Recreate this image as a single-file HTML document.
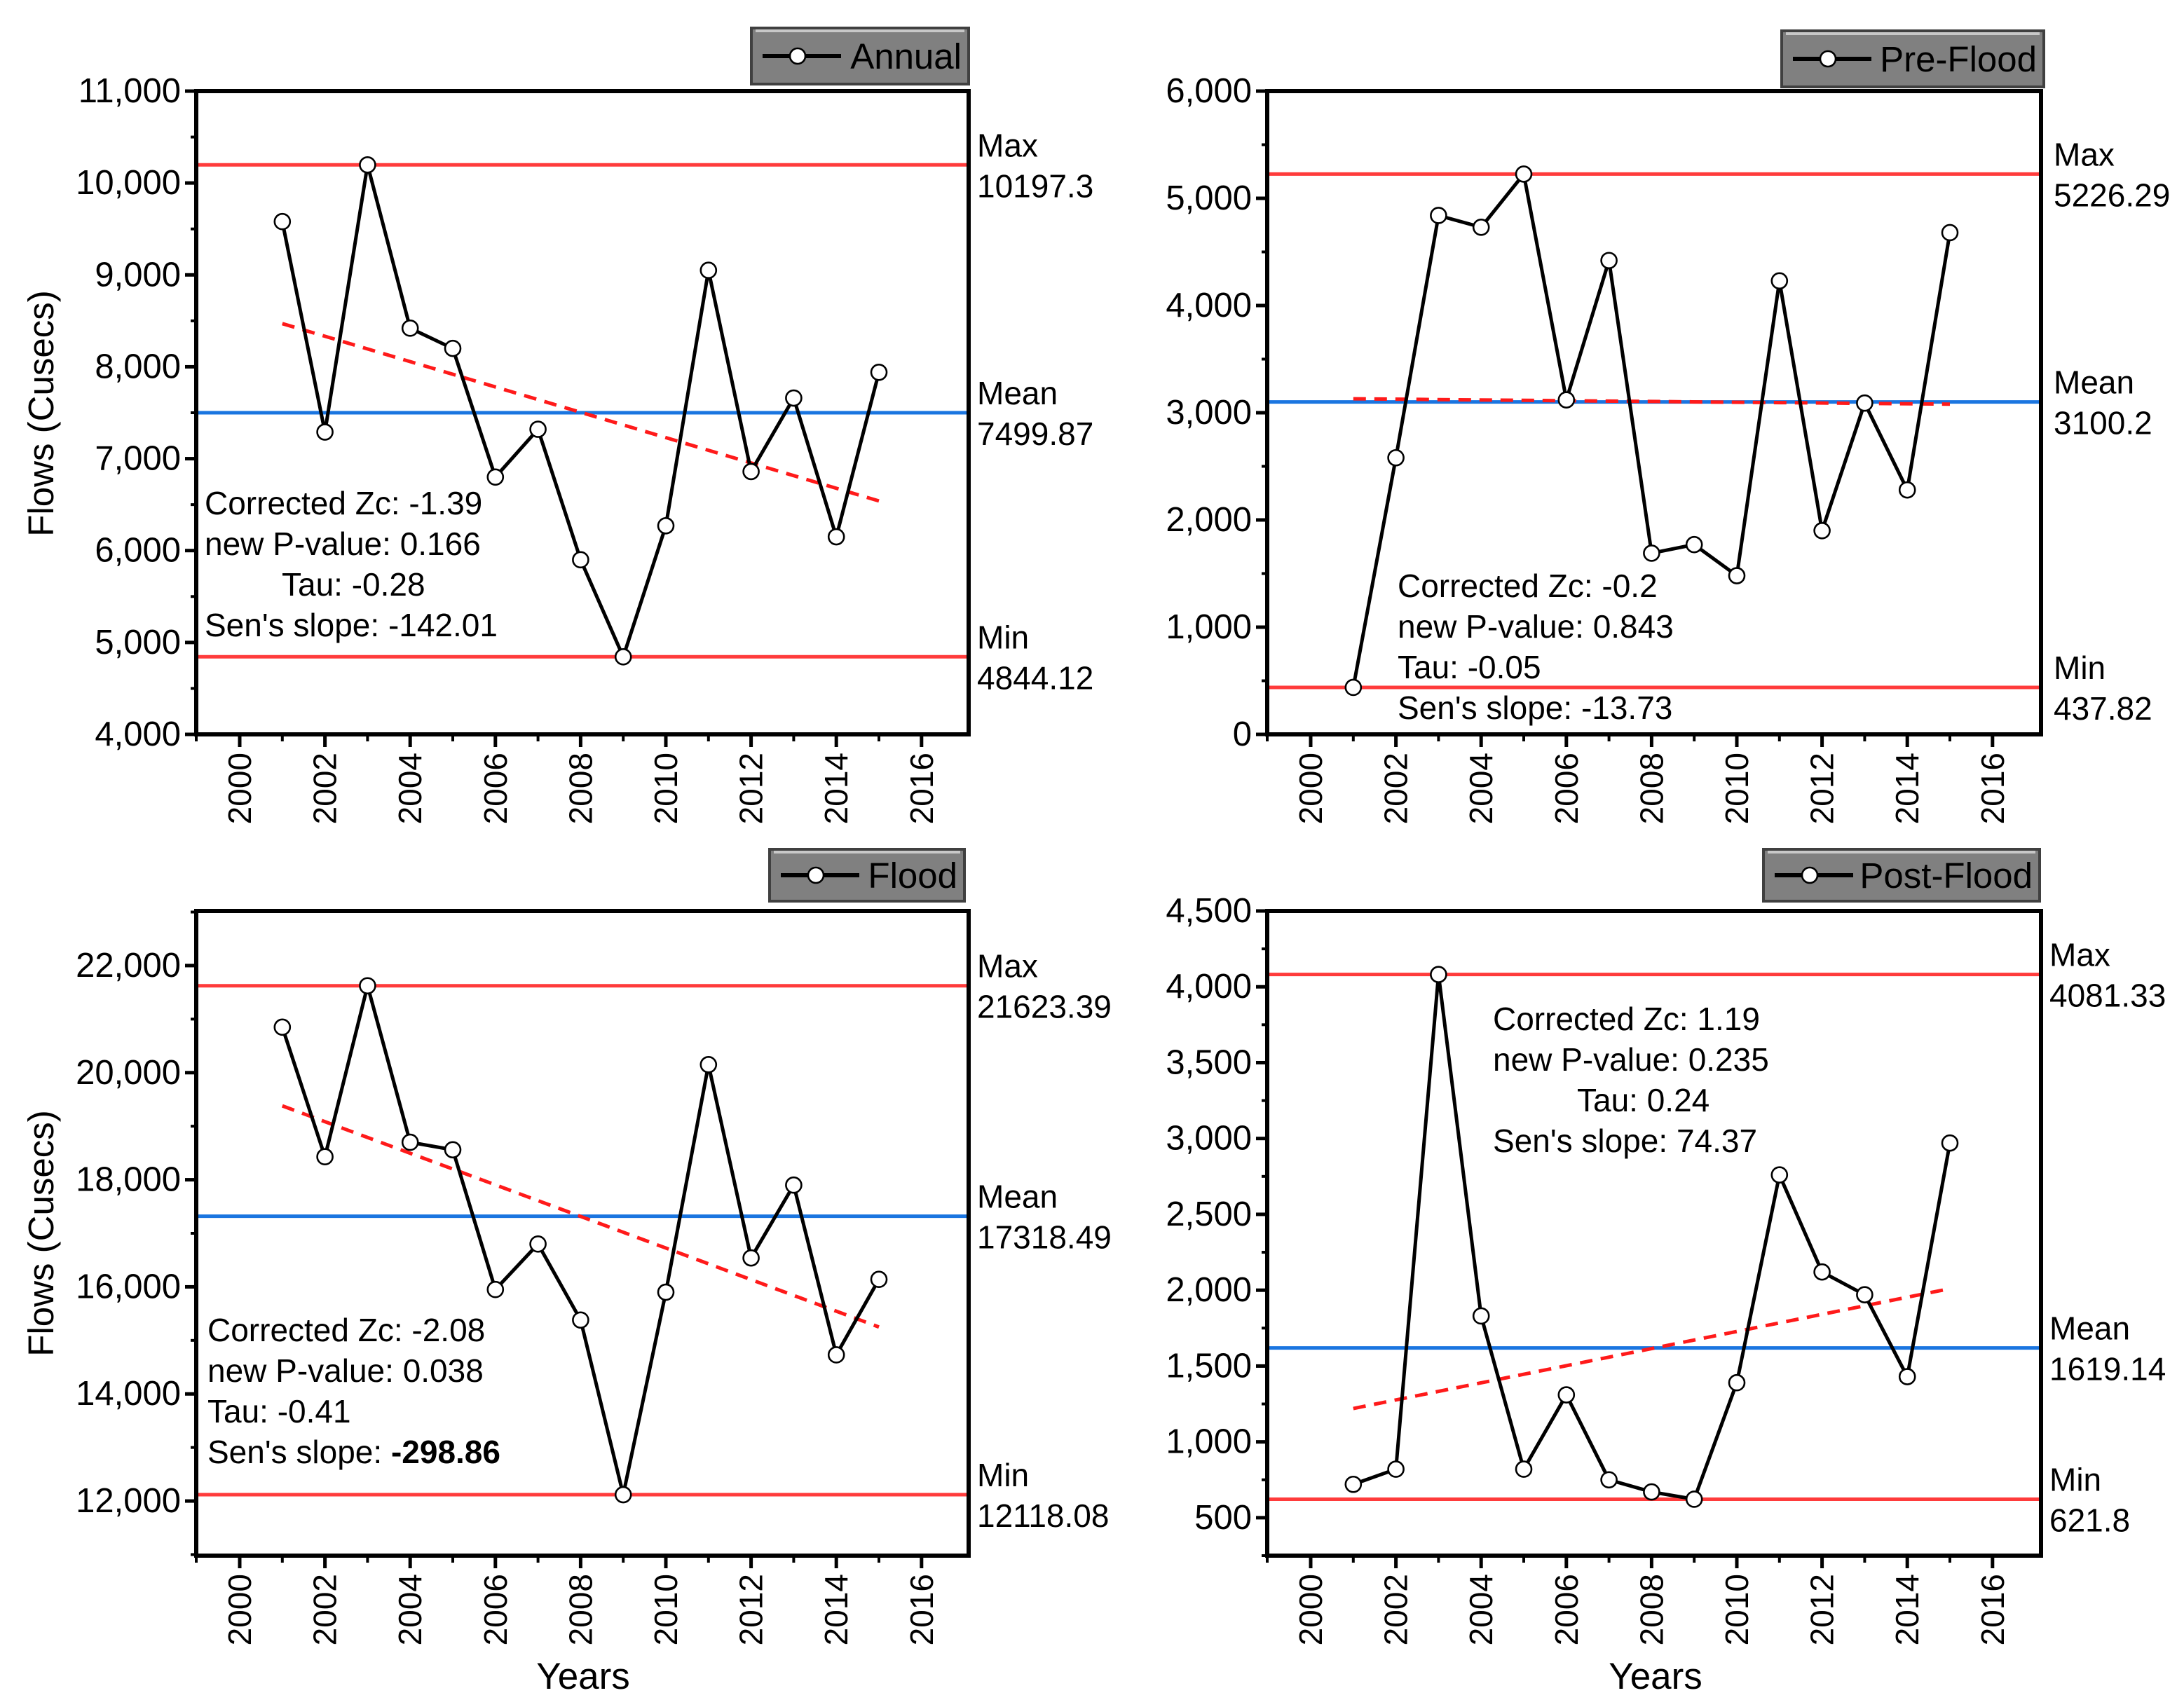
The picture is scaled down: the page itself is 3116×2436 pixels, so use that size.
<!DOCTYPE html>
<html><head><meta charset="utf-8"><style>
html,body{margin:0;padding:0;background:#fff}
svg{display:block;font-family:"Liberation Sans",Arial,sans-serif}
</style></head><body>
<svg id="chart" width="3116" height="2436" viewBox="0 0 1558 1218" xmlns="http://www.w3.org/2000/svg"></svg>
<script>
const years=[2001,2002,2003,2004,2005,2006,2007,2008,2009,2010,2011,2012,2013,2014,2015];
const annualVals=[9580,7290,10197,8420,8200,6800,7320,5900,4844,6270,9050,6860,7660,6150,7940];
const preVals=[438,2580,4840,4730,5226,3120,4420,1690,1770,1480,4230,1900,3090,2280,4680];
const floodVals=[20850,18430,21623,18700,18560,15950,16800,15380,12118,15900,20150,16540,17900,14730,16140];
const postVals=[720,820,4081,1830,820,1310,750,670,622,1390,2760,2120,1970,1430,2970];
const annualStats=[10197.3,7499.87,4844.12];
const preStats=[5226.29,3100.2,437.82];
const floodStats=[21623.39,17318.49,12118.08];
const postStats=[4081.33,1619.14,621.8];
const annualTrend=[8470,6540];
const preTrend=[3130,3080];
const floodTrend=[19380,15250];
const postTrend=[1220,2010];
const annualTicks=[4000,5000,6000,7000,8000,9000,10000,11000];
const preTicks=[0,1000,2000,3000,4000,5000,6000];
const floodTicks=[12000,14000,16000,18000,20000,22000];
const postTicks=[500,1000,1500,2000,2500,3000,3500,4000,4500];
const xTicks=[2000,2002,2004,2006,2008,2010,2012,2014,2016];

const NS="http://www.w3.org/2000/svg";
const svg=document.getElementById('chart');
function mk(tag,attrs,parent,text){const e=document.createElementNS(NS,tag);for(const k in attrs)e.setAttribute(k,attrs[k]);if(text!==undefined)e.textContent=text;(parent||svg).appendChild(e);return e;}
function fmt(v){return v.toLocaleString('en-US');}

function panel(o){
  const g=mk('g',{});
  
  
  const L=o.x0,R=o.x1,T=o.y0,B=o.y1;
  const ys=v=>B-(v-o.ymin)/(o.ymax-o.ymin)*(B-T);
  const xs=yr=>L+31+(yr-2000)*30.4;
  const cols=['#ff3b3b','#1a75e0','#ff3b3b'];
  const labs=['Max','Mean','Min'];
  o.stats.forEach((s,i)=>{
    const ln=mk('line',{x1:L,x2:R,y1:ys(s),y2:ys(s),stroke:cols[i],'stroke-width':2.5},g);
    
    
    const t1=mk('text',{x:R+o.labDx,y:ys(s)-6,'font-size':23},g,labs[i]);
    
    
    const t2=mk('text',{x:R+o.labDx,y:ys(s)+23,'font-size':23},g,String(s));
    
    
  });
  const tr=mk('line',{x1:xs(2001),x2:xs(2015),y1:ys(o.trend[0]),y2:ys(o.trend[1]),stroke:'#ff1a1a','stroke-width':2.5,'stroke-dasharray':'9,6'},g);
  
  
  const pts=years.map((y,i)=>xs(y)+','+ys(o.vals[i])).join(' ');
  const pl=mk('polyline',{points:pts,fill:'none',stroke:'#000','stroke-width':2.5},g);
  
  
  years.forEach((y,i)=>{
    const c=mk('circle',{cx:xs(y),cy:ys(o.vals[i]),r:5.5,fill:'#fff',stroke:'#000','stroke-width':1.3},g);
    
    
  });
  const fr=mk('rect',{x:L,y:T,width:R-L,height:B-T,fill:'none',stroke:'#000','stroke-width':3},g);
  
  
  const step=o.yt[1]-o.yt[0];
  o.yt.forEach(v=>{
    mk('line',{x1:L-8,x2:L,y1:ys(v),y2:ys(v),stroke:'#000','stroke-width':2.5},g);
    const t=mk('text',{x:L-11,y:ys(v)+8,'font-size':24.5,'text-anchor':'end'},g,fmt(v));
    
    
    const m=v+step/2;
    if(ys(m)>=T) mk('line',{x1:L-4,x2:L,y1:ys(m),y2:ys(m),stroke:'#000','stroke-width':2},g);
    const m2=v-step/2;
    if(v===o.yt[0]&&ys(m2)<=B) mk('line',{x1:L-4,x2:L,y1:ys(m2),y2:ys(m2),stroke:'#000','stroke-width':2},g);
  });
  xTicks.forEach(v=>{
    mk('line',{x1:xs(v),x2:xs(v),y1:B,y2:B+9,stroke:'#000','stroke-width':2.5},g);
    const t=mk('text',{x:0,y:0,'font-size':23,'text-anchor':'end',transform:`translate(${xs(v)+8},${B+13}) rotate(-90)`},g,String(v));
    
    
    if(v<2016) mk('line',{x1:xs(v+1),x2:xs(v+1),y1:B,y2:B+5,stroke:'#000','stroke-width':2},g);
  });
  mk('line',{x1:L,x2:L,y1:B,y2:B+5,stroke:'#000','stroke-width':2},g);
  o.txt.forEach((s,i)=>{
    const t=mk('text',{x:o.tx+(s[1]||0),y:o.ty+i*29,'font-size':23},g);
    
    
    if(s[2]){mk('tspan',{},t,s[0]);mk('tspan',{'font-weight':'bold'},t,s[2]);}else t.textContent=s[0];
  });
  const lg=mk('g',{},g);
  
  
  const [lx,ly,lw,lh]=o.leg;
  mk('rect',{x:lx,y:ly,width:lw,height:lh,fill:'#808080',stroke:'#404040','stroke-width':2},lg);
  mk('line',{x1:lx+3,x2:lx+lw-3,y1:ly+2,y2:ly+2,stroke:'#c8c8c8','stroke-width':2},lg);
  mk('line',{x1:lx+8,x2:lx+64,y1:ly+lh/2,y2:ly+lh/2,stroke:'#000','stroke-width':3},lg);
  mk('circle',{cx:lx+33,cy:ly+lh/2,r:5.5,fill:'#fff',stroke:'#000','stroke-width':1.3},lg);
  mk('text',{x:lx+lw-5,y:ly+lh/2+9,'font-size':25.5,'text-anchor':'end'},lg,o.title);
}

panel({name:'annual',title:'Annual',x0:140,x1:691,y0:65,y1:524,ymin:4000,ymax:11000,yt:annualTicks,vals:annualVals,stats:annualStats,trend:annualTrend,labDx:6,
  tx:146,ty:367,txt:[['Corrected Zc: -1.39'],['new P-value: 0.166'],['Tau: -0.28',55],["Sen's slope: -142.01"]],leg:[536,20,155,40]});
panel({name:'pre-flood',title:'Pre-Flood',x0:904,x1:1456,y0:65,y1:524,ymin:0,ymax:6000,yt:preTicks,vals:preVals,stats:preStats,trend:preTrend,labDx:9,
  tx:997,ty:426,txt:[['Corrected Zc: -0.2'],['new P-value: 0.843'],['Tau: -0.05'],["Sen's slope: -13.73"]],leg:[1271,22,187,40]});
panel({name:'flood',title:'Flood',x0:140,x1:691,y0:650,y1:1110,ymin:10980,ymax:23020,yt:floodTicks,vals:floodVals,stats:floodStats,trend:floodTrend,labDx:6,
  tx:148,ty:957,txt:[['Corrected Zc: -2.08'],['new P-value: 0.038'],['Tau: -0.41'],["Sen's slope: ",0,'-298.86']],leg:[549,606,139,37]});
panel({name:'post-flood',title:'Post-Flood',x0:904,x1:1456,y0:650,y1:1110,ymin:250,ymax:4500,yt:postTicks,vals:postVals,stats:postStats,trend:postTrend,labDx:6,
  tx:1065,ty:735,txt:[['Corrected Zc: 1.19'],['new P-value: 0.235'],['Tau: 0.24',60],["Sen's slope: 74.37"]],leg:[1258,606,197,37]});

[[38,295],[38,880]].forEach(p=>{
  const t=mk('text',{x:0,y:0,'font-size':25.5,'text-anchor':'middle',transform:`translate(${p[0]},${p[1]}) rotate(-90)`},svg,'Flows (Cusecs)');
  
  
});
[[416,1205],[1181,1205]].forEach(p=>{
  const t=mk('text',{x:p[0],y:p[1],'font-size':26.5,'text-anchor':'middle'},svg,'Years');
  
  
});
</script>
</body></html>
